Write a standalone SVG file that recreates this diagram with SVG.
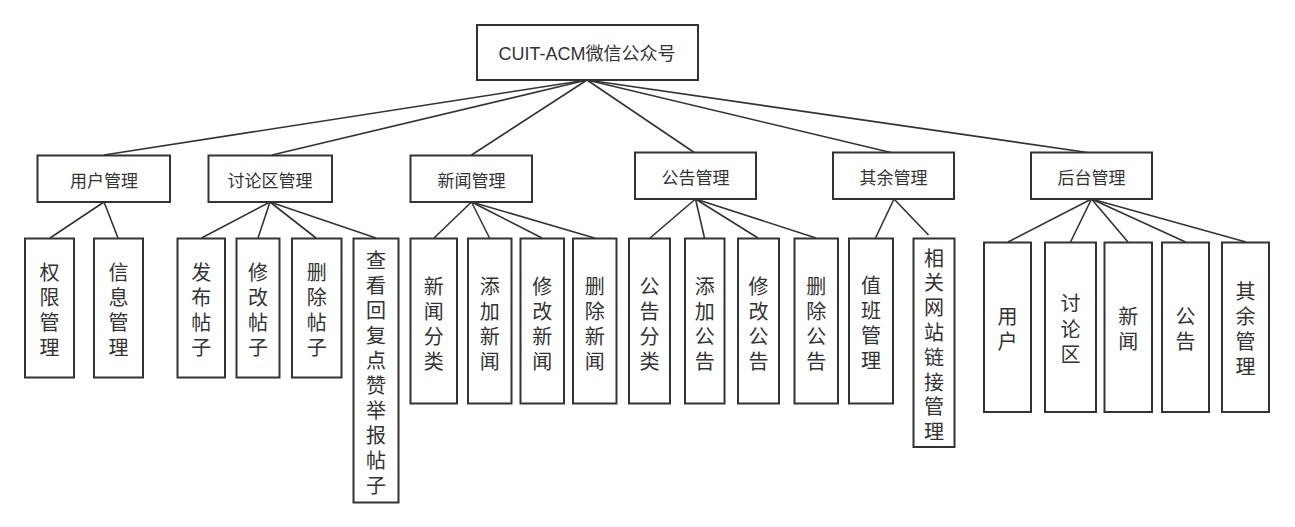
<svg xmlns="http://www.w3.org/2000/svg" width="1295" height="527" viewBox="0 0 1295 527">
<style>
.box{fill:#fff;stroke:#333;stroke-width:2}
.ln{stroke:#333;stroke-width:1.6;fill:none}
text{font-family:"Liberation Sans","Noto Sans CJK SC",sans-serif;fill:#333;text-anchor:middle;dominant-baseline:central}
.t1{font-size:17px}
.t2{font-size:20px}
.t0{font-size:18px}
</style>
<rect width="1295" height="527" fill="#fff"/>
<g id="connectors">
<line class="ln" x1="587" y1="80" x2="104" y2="155"/>
<line class="ln" x1="587" y1="80" x2="272" y2="155"/>
<line class="ln" x1="587" y1="80" x2="471.5" y2="155"/>
<line class="ln" x1="587" y1="80" x2="695" y2="153"/>
<line class="ln" x1="587" y1="80" x2="893" y2="153"/>
<line class="ln" x1="587" y1="80" x2="1091" y2="153"/>
<line class="ln" x1="104" y1="202" x2="50" y2="238"/>
<line class="ln" x1="104" y1="202" x2="118" y2="238"/>
<line class="ln" x1="270" y1="202" x2="201.5" y2="238"/>
<line class="ln" x1="270" y1="202" x2="258" y2="238"/>
<line class="ln" x1="270" y1="202" x2="316" y2="238"/>
<line class="ln" x1="270" y1="202" x2="376" y2="238"/>
<line class="ln" x1="471.5" y1="202" x2="434" y2="238"/>
<line class="ln" x1="471.5" y1="202" x2="489.5" y2="238"/>
<line class="ln" x1="471.5" y1="202" x2="542" y2="238"/>
<line class="ln" x1="471.5" y1="202" x2="594.5" y2="238"/>
<line class="ln" x1="695.5" y1="199" x2="650" y2="238"/>
<line class="ln" x1="695.5" y1="199" x2="704.5" y2="238"/>
<line class="ln" x1="695.5" y1="199" x2="758" y2="238"/>
<line class="ln" x1="695.5" y1="199" x2="816" y2="238"/>
<line class="ln" x1="894" y1="199" x2="875.5" y2="238"/>
<line class="ln" x1="894" y1="199" x2="928.5" y2="235"/>
<line class="ln" x1="1091.5" y1="199" x2="1008" y2="242"/>
<line class="ln" x1="1091.5" y1="199" x2="1070.5" y2="242"/>
<line class="ln" x1="1091.5" y1="199" x2="1128" y2="242"/>
<line class="ln" x1="1091.5" y1="199" x2="1185.5" y2="242"/>
<line class="ln" x1="1091.5" y1="199" x2="1246" y2="242"/>
</g>
<g id="root"><rect class="box" x="477" y="25" width="221" height="55"/><text class="t0" x="587" y="54">CUIT-ACM微信公众号</text></g>
<g id="n-user"><rect class="box" x="37.5" y="155.5" width="132.5" height="46.5"/><text class="t1" x="104" y="181">用户管理</text></g>
<g id="n-forum"><rect class="box" x="208.5" y="155.5" width="123.5" height="46.5"/><text class="t1" x="270" y="181">讨论区管理</text></g>
<g id="n-news"><rect class="box" x="410.5" y="155.5" width="121.5" height="46.5"/><text class="t1" x="471.5" y="181">新闻管理</text></g>
<g id="n-notice"><rect class="box" x="635" y="152.5" width="121" height="46.5"/><text class="t1" x="695.5" y="178">公告管理</text></g>
<g id="n-other"><rect class="box" x="833" y="152.5" width="121" height="46.5"/><text class="t1" x="893.5" y="178">其余管理</text></g>
<g id="n-admin"><rect class="box" x="1031" y="152.5" width="121" height="46.5"/><text class="t1" x="1091.5" y="178">后台管理</text></g>

<g id="u1"><rect class="box" x="25" y="238.5" width="49" height="139"/><text class="t2"><tspan x="49.5" y="273">权</tspan><tspan x="49.5" y="298">限</tspan><tspan x="49.5" y="323">管</tspan><tspan x="49.5" y="348">理</tspan></text></g>
<g id="u2"><rect class="box" x="94" y="238.5" width="49" height="139"/><text class="t2"><tspan x="118.5" y="273">信</tspan><tspan x="118.5" y="298">息</tspan><tspan x="118.5" y="323">管</tspan><tspan x="118.5" y="348">理</tspan></text></g>
<g id="f1"><rect class="box" x="177.5" y="238.5" width="47.5" height="139"/><text class="t2"><tspan x="201.3" y="273">发</tspan><tspan x="201.3" y="298">布</tspan><tspan x="201.3" y="323">帖</tspan><tspan x="201.3" y="348">子</tspan></text></g>
<g id="f2"><rect class="box" x="236.5" y="238.5" width="43" height="139"/><text class="t2"><tspan x="258" y="273">修</tspan><tspan x="258" y="298">改</tspan><tspan x="258" y="323">帖</tspan><tspan x="258" y="348">子</tspan></text></g>
<g id="f3"><rect class="box" x="292" y="238.5" width="49.5" height="139"/><text class="t2"><tspan x="316.7" y="273">删</tspan><tspan x="316.7" y="298">除</tspan><tspan x="316.7" y="323">帖</tspan><tspan x="316.7" y="348">子</tspan></text></g>
<g id="f4"><rect class="box" x="353.5" y="238.5" width="45" height="264"/><text class="t2"><tspan x="376" y="261">查</tspan><tspan x="376" y="286">看</tspan><tspan x="376" y="311">回</tspan><tspan x="376" y="336">复</tspan><tspan x="376" y="361">点</tspan><tspan x="376" y="386">赞</tspan><tspan x="376" y="411">举</tspan><tspan x="376" y="436">报</tspan><tspan x="376" y="461">帖</tspan><tspan x="376" y="486">子</tspan></text></g>

<g id="nw1"><rect class="box" x="410.5" y="238.5" width="46.5" height="165"/><text class="t2"><tspan x="433.7" y="287">新</tspan><tspan x="433.7" y="312">闻</tspan><tspan x="433.7" y="337">分</tspan><tspan x="433.7" y="362">类</tspan></text></g>
<g id="nw2"><rect class="box" x="468" y="238.5" width="43.5" height="165"/><text class="t2"><tspan x="489.8" y="287">添</tspan><tspan x="489.8" y="312">加</tspan><tspan x="489.8" y="337">新</tspan><tspan x="489.8" y="362">闻</tspan></text></g>
<g id="nw3"><rect class="box" x="520.5" y="238.5" width="43.5" height="165"/><text class="t2"><tspan x="542.2" y="287">修</tspan><tspan x="542.2" y="312">改</tspan><tspan x="542.2" y="337">新</tspan><tspan x="542.2" y="362">闻</tspan></text></g>
<g id="nw4"><rect class="box" x="573" y="238.5" width="43.5" height="165"/><text class="t2"><tspan x="594.7" y="287">删</tspan><tspan x="594.7" y="312">除</tspan><tspan x="594.7" y="337">新</tspan><tspan x="594.7" y="362">闻</tspan></text></g>

<g id="nt1"><rect class="box" x="629" y="238.5" width="41" height="165"/><text class="t2"><tspan x="649.5" y="287">公</tspan><tspan x="649.5" y="312">告</tspan><tspan x="649.5" y="337">分</tspan><tspan x="649.5" y="362">类</tspan></text></g>
<g id="nt2"><rect class="box" x="685" y="238.5" width="39.5" height="165"/><text class="t2"><tspan x="704.7" y="287">添</tspan><tspan x="704.7" y="312">加</tspan><tspan x="704.7" y="337">公</tspan><tspan x="704.7" y="362">告</tspan></text></g>
<g id="nt3"><rect class="box" x="738" y="238.5" width="41" height="165"/><text class="t2"><tspan x="758.5" y="287">修</tspan><tspan x="758.5" y="312">改</tspan><tspan x="758.5" y="337">公</tspan><tspan x="758.5" y="362">告</tspan></text></g>
<g id="nt4"><rect class="box" x="794.5" y="238.5" width="43.5" height="165"/><text class="t2"><tspan x="816.2" y="287">删</tspan><tspan x="816.2" y="312">除</tspan><tspan x="816.2" y="337">公</tspan><tspan x="816.2" y="362">告</tspan></text></g>

<g id="o1"><rect class="box" x="849" y="238.5" width="44" height="165"/><text class="t2"><tspan x="871" y="286">值</tspan><tspan x="871" y="311">班</tspan><tspan x="871" y="336">管</tspan><tspan x="871" y="361">理</tspan></text></g>
<g id="o2"><rect class="box" x="913.5" y="238.5" width="41" height="208.5"/><text class="t2"><tspan x="934" y="258.5">相</tspan><tspan x="934" y="283.3">关</tspan><tspan x="934" y="308.1">网</tspan><tspan x="934" y="332.9">站</tspan><tspan x="934" y="357.7">链</tspan><tspan x="934" y="382.5">接</tspan><tspan x="934" y="407.3">管</tspan><tspan x="934" y="432.1">理</tspan></text></g>

<g id="a1"><rect class="box" x="984" y="242.5" width="47" height="169.5"/><text class="t2"><tspan x="1007.5" y="317">用</tspan><tspan x="1007.5" y="342">户</tspan></text></g>
<g id="a2"><rect class="box" x="1045" y="242.5" width="51" height="169.5"/><text class="t2"><tspan x="1070.5" y="304">讨</tspan><tspan x="1070.5" y="329.5">论</tspan><tspan x="1070.5" y="355">区</tspan></text></g>
<g id="a3"><rect class="box" x="1104.5" y="242.5" width="47.5" height="169.5"/><text class="t2"><tspan x="1128.2" y="317">新</tspan><tspan x="1128.2" y="342">闻</tspan></text></g>
<g id="a4"><rect class="box" x="1162" y="242.5" width="47" height="169.5"/><text class="t2"><tspan x="1185.5" y="317">公</tspan><tspan x="1185.5" y="342">告</tspan></text></g>
<g id="a5"><rect class="box" x="1222" y="242.5" width="47" height="169.5"/><text class="t2"><tspan x="1245.5" y="292">其</tspan><tspan x="1245.5" y="317">余</tspan><tspan x="1245.5" y="342">管</tspan><tspan x="1245.5" y="367">理</tspan></text></g>
</svg>
